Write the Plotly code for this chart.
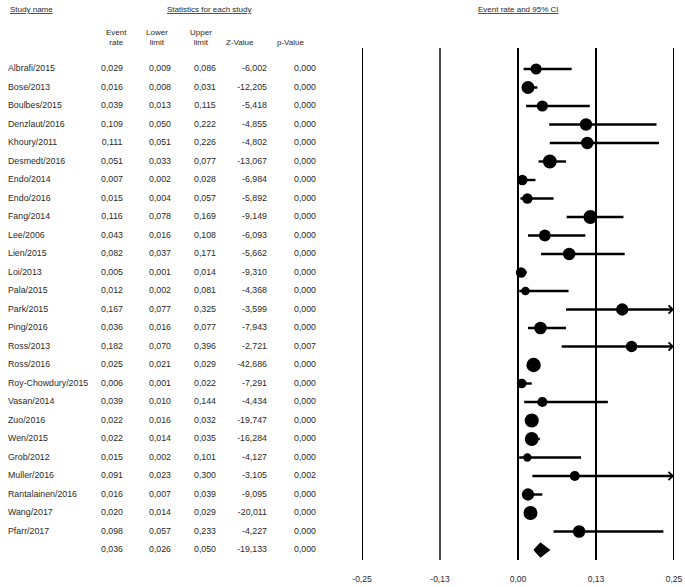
import math
import plotly.graph_objects as go

# ---------------- data ----------------
studies = ["Albrafi/2015", "Bose/2013", "Boulbes/2015", "Denzlaut/2016", "Khoury/2011",
           "Desmedt/2016", "Endo/2014", "Endo/2016", "Fang/2014", "Lee/2006", "Lien/2015",
           "Loi/2013", "Pala/2015", "Park/2015", "Ping/2016", "Ross/2013", "Ross/2016",
           "Roy-Chowdury/2015", "Vasan/2014", "Zuo/2016", "Wen/2015", "Grob/2012",
           "Muller/2016", "Rantalainen/2016", "Wang/2017", "Pfarr/2017"]
event_rate = [0.029, 0.016, 0.039, 0.109, 0.111, 0.051, 0.007, 0.015, 0.116, 0.043, 0.082,
              0.005, 0.012, 0.167, 0.036, 0.182, 0.025, 0.006, 0.039, 0.022, 0.022, 0.015,
              0.091, 0.016, 0.020, 0.098]
lower_limit = [0.009, 0.008, 0.013, 0.050, 0.051, 0.033, 0.002, 0.004, 0.078, 0.016, 0.037,
               0.001, 0.002, 0.077, 0.016, 0.070, 0.021, 0.001, 0.010, 0.016, 0.014, 0.002,
               0.023, 0.007, 0.014, 0.057]
upper_limit = [0.086, 0.031, 0.115, 0.222, 0.226, 0.077, 0.028, 0.057, 0.169, 0.108, 0.171,
               0.014, 0.081, 0.325, 0.077, 0.396, 0.029, 0.022, 0.144, 0.032, 0.035, 0.101,
               0.300, 0.039, 0.029, 0.233]
z_value = [-6.002, -12.205, -5.418, -4.855, -4.802, -13.067, -6.984, -5.892, -9.149, -6.093,
           -5.662, -9.310, -4.368, -3.599, -7.943, -2.721, -42.686, -7.291, -4.434, -19.747,
           -16.284, -4.127, -3.105, -9.095, -20.011, -4.227]
p_value = [0.000, 0.000, 0.000, 0.000, 0.000, 0.000, 0.000, 0.000, 0.000, 0.000, 0.000,
           0.000, 0.000, 0.000, 0.000, 0.007, 0.000, 0.000, 0.000, 0.000, 0.000, 0.000,
           0.002, 0.000, 0.000, 0.000]
summary_rate = 0.036
summary_lower = 0.026
summary_upper = 0.050
summary_z = -19.133
summary_p = 0.000
axis_ticks = [-0.25, -0.125, 0.0, 0.125, 0.25]
axis_ticktext = ["-0,25", "-0,13", "0,00", "0,13", "0,25"]

# ---------------- helpers ----------------
def fmt(v):
    return f"{v:.3f}".replace(".", ",")

def logit(p):
    return math.log(p / (1 - p))

n = len(studies)
rows = list(range(n))
sum_row = n
X_MIN, X_MAX = axis_ticks[0], axis_ticks[-1]
TAU2 = 0.5

# marker size from random-effects weight (logit scale)
sizes = []
for lo, hi in zip(lower_limit, upper_limit):
    se = (logit(hi) - logit(lo)) / (2 * 1.96)
    sizes.append(10.3 * math.sqrt(1.0 / (se * se + TAU2)))

FONT = "Liberation Sans"
TXT = "#2a2a2a"

fig = go.Figure()

# vertical reference lines at each tick
for t in axis_ticks:
    fig.add_trace(go.Scatter(
        x=[t, t], y=[-1.135, sum_row + 0.54], mode="lines",
        line=dict(color="black", width=1.4 if t == -0.125 else 2),
        hoverinfo="skip", cliponaxis=False))

# confidence interval lines
cx, cy = [], []
for r, lo, hi in zip(rows, lower_limit, upper_limit):
    cx += [max(lo, X_MIN), min(hi, X_MAX), None]
    cy += [r, r, None]
fig.add_trace(go.Scatter(x=cx, y=cy, mode="lines",
                         line=dict(color="black", width=2.4),
                         hoverinfo="skip", cliponaxis=False))

# point estimates
fig.add_trace(go.Scatter(x=event_rate, y=rows, mode="markers",
                         marker=dict(color="black", size=sizes, symbol="circle",
                                     opacity=1, line=dict(width=0)),
                         hoverinfo="skip", cliponaxis=False))

# summary diamond
h = 0.37
fig.add_trace(go.Scatter(
    x=[summary_lower, summary_rate, summary_upper, summary_rate, summary_lower],
    y=[sum_row, sum_row - h, sum_row, sum_row + h, sum_row],
    mode="lines", fill="toself", fillcolor="black",
    line=dict(color="black", width=1.5), hoverinfo="skip", cliponaxis=False))

# arrows where CI exceeds axis
for r, lo, hi in zip(rows, lower_limit, upper_limit):
    if hi > X_MAX:
        fig.add_annotation(x=X_MAX, y=r, ax=X_MAX - 0.02, ay=r, xref="x", yref="y",
                           axref="x", ayref="y", text="", showarrow=True,
                           arrowhead=4, arrowsize=1.6, arrowwidth=1, arrowcolor="black")

# axis tick labels
fig.add_trace(go.Scatter(x=axis_ticks, y=[sum_row + 1.62] * len(axis_ticks),
                         mode="text", text=axis_ticktext,
                         textfont=dict(family=FONT, size=8.5, color=TXT),
                         hoverinfo="skip", cliponaxis=False))

# ---------------- table text (x2 axis in pixel-like units) ----------------
all_rows = rows + [sum_row]
cols = [
    (8, "middle right", studies + [""]),
    (112, "middle center", [fmt(v) for v in event_rate + [summary_rate]]),
    (160, "middle center", [fmt(v) for v in lower_limit + [summary_lower]]),
    (205, "middle center", [fmt(v) for v in upper_limit + [summary_upper]]),
    (267, "middle left", [fmt(v) for v in z_value + [summary_z]]),
    (305, "middle center", [fmt(v) for v in p_value + [summary_p]]),
]
for xpos, pos, texts in cols:
    fig.add_trace(go.Scatter(x=[xpos] * len(texts), y=all_rows, mode="text",
                             text=texts, textposition=pos,
                             textfont=dict(family=FONT, size=8.8, color=TXT),
                             xaxis="x2", yaxis="y", hoverinfo="skip", cliponaxis=False))

headers = [
    (8, -3.19, "<u>Study name</u>", "left"),
    (209, -3.19, "<u>Statistics for each study</u>", "center"),
    (116, -1.70, "Event<br>rate", "center"),
    (157, -1.70, "Lower<br>limit", "center"),
    (201, -1.70, "Upper<br>limit", "center"),
    (240, -1.41, "Z-Value", "center"),
    (291, -1.41, "p-Value", "center"),
]
for xpos, ypos, txt, al in headers:
    fig.add_annotation(x=xpos, y=ypos, xref="x2", yref="y", text=txt, showarrow=False,
                       xanchor=al, yanchor="middle", align="center",
                       font=dict(family=FONT, size=8, color=TXT))
fig.add_annotation(x=0.0, y=-3.19, xref="x", yref="y", text="<u>Event rate and 95% CI</u>",
                   showarrow=False, xanchor="center", yanchor="middle",
                   font=dict(family=FONT, size=8, color=TXT))

W, H = 685, 587
fig.update_layout(
    width=W, height=H, margin=dict(l=0, r=0, t=0, b=0),
    paper_bgcolor="white", plot_bgcolor="rgba(0,0,0,0)",
    showlegend=False, hovermode=False,
    xaxis=dict(domain=[362 / W, 674 / W], range=[X_MIN, X_MAX], visible=False,
               fixedrange=True, anchor="y"),
    xaxis2=dict(domain=[0, 1], range=[0, W], visible=False, fixedrange=True, anchor="y"),
    yaxis=dict(domain=[0, 1], range=[28.0, -3.73], visible=False, fixedrange=True),
)

fig.write_html("out.html", config={"displayModeBar": False},
               post_script="document.body.style.margin='0';")
